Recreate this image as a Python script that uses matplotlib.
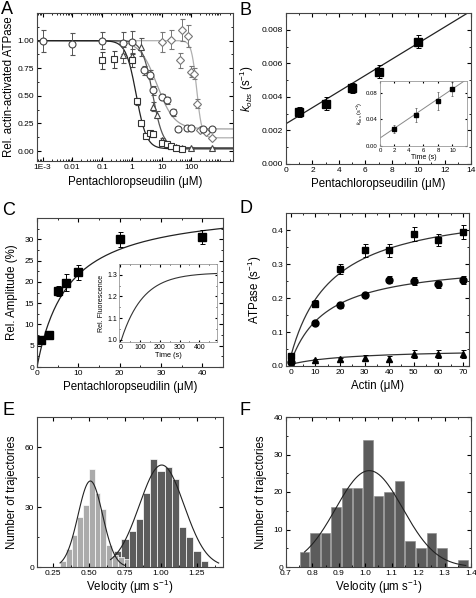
import numpy as np
import matplotlib
matplotlib.use('Agg')
import matplotlib.pyplot as plt
from matplotlib.ticker import AutoMinorLocator, FixedLocator, FixedFormatter, LogLocator, NullFormatter

plt.rcParams['font.family'] = ['Liberation Sans', 'DejaVu Sans']
plt.rcParams['mathtext.fontset'] = 'custom'
plt.rcParams['mathtext.rm'] = 'Liberation Sans'
plt.rcParams['mathtext.it'] = 'Liberation Sans:italic'
plt.rcParams['xtick.direction'] = 'in'
plt.rcParams['ytick.direction'] = 'in'
plt.rcParams['xtick.top'] = True
plt.rcParams['ytick.right'] = True
plt.rcParams['xtick.major.size'] = 3
plt.rcParams['ytick.major.size'] = 3
plt.rcParams['xtick.minor.size'] = 1.5
plt.rcParams['ytick.minor.size'] = 1.5
plt.rcParams['xtick.major.pad'] = 2
plt.rcParams['ytick.major.pad'] = 2
plt.rcParams['axes.linewidth'] = 0.8
plt.rcParams['axes.edgecolor'] = '#444444'

# ---- panel A: inhibition curves ----
a_sq_x = [0.1, 0.25, 1, 1.5, 2, 3, 4, 5, 10, 15, 20, 30, 50]
a_sq_y = [0.82, 0.83, 0.82, 0.45, 0.25, 0.14, 0.16, 0.15, 0.07, 0.06, 0.05, 0.03, 0.02]
a_sq_e = [0.08, 0.08, 0.06, 0.03, 0.02, 0.02, 0.02, 0.02, 0.02, 0.02, 0.01, 0.01, 0.01]
a_tri_x = [0.5, 1, 2, 5, 7, 10, 20, 30, 50, 100, 500]
a_tri_y = [0.87, 0.86, 0.94, 0.40, 0.33, 0.10, 0.05, 0.04, 0.03, 0.03, 0.03]
a_tri_e = [0.07, 0.06, 0.08, 0.04, 0.03, 0.02, 0.01, 0.01, 0.01, 0.01, 0.01]
a_cir_x = [0.001, 0.01, 0.1, 0.5, 1, 2.5, 4, 5, 10, 15, 25, 35, 70, 100, 250, 500]
a_cir_y = [1.0, 0.97, 1.0, 0.98, 0.99, 0.73, 0.69, 0.55, 0.49, 0.46, 0.35, 0.20, 0.21, 0.21, 0.20, 0.20]
a_cir_e = [0.1, 0.1, 0.08, 0.1, 0.1, 0.04, 0.04, 0.04, 0.03, 0.03, 0.03, 0.01, 0.01, 0.01, 0.01, 0.01]
a_dia_x = [10, 20, 40, 50, 75, 100, 125, 150, 200, 300, 500]
a_dia_y = [0.99, 1.01, 0.82, 1.10, 1.04, 0.72, 0.70, 0.43, 0.19, 0.17, 0.12]
a_dia_e = [0.09, 0.09, 0.07, 0.10, 0.10, 0.05, 0.05, 0.04, 0.02, 0.02, 0.01]
# Hill fit parameters: (bottom, IC50, hill n)
a_fit_sq = (0.02, 1.4, 2.5)
a_fit_tri = (0.03, 5.0, 2.5)
a_fit_cir = (0.20, 7.0, 1.5)
a_fit_dia = (0.12, 150.0, 5.0)

# ---- panel B ----
b_x = [1, 3, 5, 7, 10]
b_y = [0.0031, 0.0036, 0.00453, 0.0055, 0.0073]
b_e = [0.0003, 0.0004, 0.0003, 0.0004, 0.0004]
b_fit = (0.0024, 0.00048)
b_in_x = [2, 5, 8, 10]
b_in_y = [0.026, 0.047, 0.068, 0.086]
b_in_e = [0.006, 0.011, 0.013, 0.011]
b_in_fit = (0.012, 0.0074)

# ---- panel C ----
c_x = [1, 3, 5, 7, 10, 20, 40]
c_y = [6.3, 7.5, 17.8, 19.8, 22.2, 30.0, 30.5]
c_e = [0.8, 1.0, 1.2, 2.0, 1.8, 1.7, 1.6]
c_fit = (38.0, 7.5)
c_in_fit = (1.0, 0.31, 110.0)

# ---- panel D ----
d_x = [0, 10, 20, 30, 40, 50, 60, 70]
d_sq = [0.03, 0.183, 0.285, 0.34, 0.34, 0.388, 0.37, 0.395]
d_sq_e = [0.005, 0.01, 0.015, 0.018, 0.018, 0.02, 0.018, 0.02]
d_cir = [0.012, 0.127, 0.18, 0.21, 0.254, 0.25, 0.24, 0.254]
d_cir_e = [0.004, 0.006, 0.008, 0.008, 0.01, 0.012, 0.01, 0.012]
d_tri = [0.005, 0.018, 0.02, 0.025, 0.022, 0.035, 0.036, 0.036]
d_tri_e = [0.003, 0.004, 0.005, 0.006, 0.006, 0.012, 0.012, 0.012]
d_fit_sq = (0.03, 0.45, 17.0)
d_fit_cir = (0.012, 0.30, 15.0)
d_fit_tri = (0.005, 0.045, 25.0)

# ---- panel E ----
e_light_x = [0.32, 0.36, 0.40, 0.44, 0.48, 0.52, 0.56, 0.60, 0.64, 0.68, 0.72, 0.76]
e_light_n = [3, 9, 16, 25, 31, 49, 37, 29, 11, 6, 5, 4]
e_dark_x = [0.70, 0.75, 0.80, 0.85, 0.90, 0.95, 1.00, 1.05, 1.10, 1.15, 1.20, 1.25, 1.30]
e_dark_n = [8, 14, 18, 24, 37, 54, 48, 50, 44, 20, 15, 8, 3]
e_fit_light = (43.0, 0.51, 0.085)
e_fit_dark = (51.0, 1.005, 0.155)

# ---- panel F ----
f_x = [0.77, 0.81, 0.85, 0.89, 0.93, 0.97, 1.01, 1.05, 1.09, 1.13, 1.17, 1.21, 1.25, 1.29, 1.37]
f_n = [4, 9, 9, 16, 21, 21, 34, 19, 20, 23, 7, 5, 9, 5, 2]
f_fit = (25.7, 1.015, 0.127)


def hill(x, p):
    bottom, ic50, n = p
    return bottom + (1 - bottom) / (1 + (x / ic50) ** n)


def gauss(x, p):
    a, mu, s = p
    return a * np.exp(-0.5 * ((x - mu) / s) ** 2)


W, H = 477, 598
fig = plt.figure(figsize=(W / 100, H / 100), dpi=100)


def box(l, t, r, b):
    return [l / W, 1 - b / H, (r - l) / W, (b - t) / H]


lab = dict(fontsize=8.3)
tk = 6
ebk = dict(capsize=1.8, elinewidth=0.7, capthick=0.7, ls='none')

# A
ax = fig.add_axes(box(37, 13, 233, 161))
ax.set_xscale('log')
xx = np.logspace(-3.2, 3.4, 400)
ax.plot(xx, hill(xx, a_fit_dia), color='#b0b0b0', lw=0.9)
ax.plot(xx, hill(xx, a_fit_cir), color='#a0a0a0', lw=0.9)
ax.plot(xx, hill(xx, a_fit_tri), color='#555555', lw=0.9)
ax.plot(xx, hill(xx, a_fit_sq), color='#222222', lw=0.9)
ax.errorbar(a_dia_x, a_dia_y, yerr=a_dia_e, marker='D', ms=3.6, mfc='white', mec='#777777',
            ecolor='#777777', mew=0.8, **ebk)
ax.errorbar(a_cir_x, a_cir_y, yerr=a_cir_e, marker='o', ms=5, mfc='white', mec='#444444',
            ecolor='#555555', mew=0.8, **ebk)
ax.errorbar(a_tri_x, a_tri_y, yerr=a_tri_e, marker='^', ms=5, mfc='white', mec='#444444',
            ecolor='#555555', mew=0.8, **ebk)
ax.errorbar(a_sq_x, a_sq_y, yerr=a_sq_e, marker='s', ms=4.5, mfc='white', mec='#333333',
            ecolor='#444444', mew=0.8, **ebk)
ax.set_xlim(6.5e-4, 2500)
ax.set_ylim(-0.09, 1.25)
ax.xaxis.set_major_locator(FixedLocator([1e-3, 1e-2, 1e-1, 1, 10, 100]))
ax.xaxis.set_major_formatter(FixedFormatter(['1E-3', '0.01', '0.1', '1', '10', '100']))
ax.xaxis.set_minor_locator(LogLocator(base=10, subs=np.arange(2, 10), numticks=20))
ax.xaxis.set_minor_formatter(NullFormatter())
ax.set_yticks([0, 0.25, 0.5, 0.75, 1.0])
ax.set_yticklabels(['0.00', '0.25', '0.50', '0.75', '1.00'])
ax.yaxis.set_minor_locator(AutoMinorLocator(2))
ax.tick_params(labelsize=tk)
ax.set_xlabel('Pentachloropseudilin (μM)', **lab, labelpad=4)
ax.set_ylabel('Rel. actin-activated ATPase', **lab, labelpad=2)

# B
ax = fig.add_axes(box(286, 13, 471, 164))
xb = np.linspace(0, 14, 50)
ax.plot(xb, b_fit[0] + b_fit[1] * xb, color='#222222', lw=0.9)
ax.errorbar(b_x, b_y, yerr=b_e, marker='s', ms=6, color='black', **ebk)
ax.set_xlim(0, 14)
ax.set_ylim(0, 0.009)
ax.set_xticks(range(0, 15, 2))
ax.set_yticks([0, 0.002, 0.004, 0.006, 0.008])
ax.set_yticklabels(['0.000', '0.002', '0.004', '0.006', '0.008'])
ax.xaxis.set_minor_locator(AutoMinorLocator(2))
ax.yaxis.set_minor_locator(AutoMinorLocator(2))
ax.tick_params(labelsize=tk)
ax.set_xlabel('Pentachloropseudilin (μM)', **lab, labelpad=3)
ax.set_ylabel(r'$k_{obs}$ (s$^{-1}$)', **lab, labelpad=4)

ax = fig.add_axes(box(380, 81, 467, 146))
xb = np.linspace(0, 12, 50)
ax.plot(xb, b_in_fit[0] + b_in_fit[1] * xb, color='#888888', lw=0.7)
ax.errorbar(b_in_x, b_in_y, yerr=b_in_e, marker='s', ms=2.5, color='black', ecolor='#555555',
            capsize=1, elinewidth=0.5, capthick=0.5, ls='none')
ax.set_xlim(0, 12)
ax.set_ylim(0, 0.098)
ax.set_xticks([0, 2, 4, 6, 8, 10])
ax.set_yticks([0, 0.04, 0.08])
ax.set_yticklabels(['0.00', '0.04', '0.08'])
ax.tick_params(labelsize=4.3, length=1.5, pad=1.5)
ax.set_xlabel('Time (s)', fontsize=5, labelpad=1)
ax.set_ylabel(r'$k_{obs}$ (s$^{-1}$)', fontsize=4, labelpad=1)
for s in ax.spines.values():
    s.set_color('#999999')
    s.set_linewidth(0.6)

# C
ax = fig.add_axes(box(37, 218, 223, 367))
xc = np.linspace(0, 45, 200)
ax.plot(xc, c_fit[0] * xc / (c_fit[1] + xc), color='#222222', lw=0.9)
ax.errorbar(c_x, c_y, yerr=c_e, marker='s', ms=5.5, color='black', **ebk)
ax.set_xlim(0, 45)
ax.set_ylim(0, 35)
ax.set_xticks([0, 10, 20, 30, 40])
ax.set_yticks([0, 5, 10, 15, 20, 25, 30])
ax.xaxis.set_minor_locator(AutoMinorLocator(2))
ax.yaxis.set_minor_locator(AutoMinorLocator(2))
ax.tick_params(labelsize=tk)
ax.set_xlabel('Pentachloropseudilin (μM)', **lab, labelpad=3)
ax.set_ylabel('Rel. Amplitude (%)', **lab, labelpad=5)

ax = fig.add_axes(box(119, 264, 217, 342))
tt = np.linspace(5, 490, 200)
ax.plot(tt, c_in_fit[0] + c_in_fit[1] * (1 - np.exp(-(tt - 5) / c_in_fit[2])), color='#333333', lw=0.8)
ax.set_xlim(-7, 490)
ax.set_ylim(0.99, 1.35)
ax.set_xticks([0, 100, 200, 300, 400])
ax.set_yticks([1.0, 1.1, 1.2, 1.3])
ax.xaxis.set_minor_locator(AutoMinorLocator(2))
ax.yaxis.set_minor_locator(AutoMinorLocator(2))
ax.tick_params(labelsize=5, length=1.8, pad=1.5)
ax.tick_params(which='minor', length=1)
ax.set_xlabel('Time (s)', fontsize=5.3, labelpad=1)
ax.set_ylabel('Rel. Fluorescence', fontsize=5, labelpad=1.5)
for s in ax.spines.values():
    s.set_color('#999999')
    s.set_linewidth(0.6)

# D
ax = fig.add_axes(box(286, 213, 469, 366))
xd = np.linspace(0, 70, 200)
for p in (d_fit_sq, d_fit_cir, d_fit_tri):
    ax.plot(xd, p[0] + p[1] * xd / (p[2] + xd), color='#333333', lw=0.9)
ax.errorbar(d_x, d_sq, yerr=d_sq_e, marker='s', ms=4.5, color='black', **ebk)
ax.errorbar(d_x, d_cir, yerr=d_cir_e, marker='o', ms=5, color='black', **ebk)
ax.errorbar(d_x, d_tri, yerr=d_tri_e, marker='^', ms=5, color='black', **ebk)
ax.set_xlim(-2, 72.5)
ax.set_ylim(0, 0.45)
ax.set_xticks(range(0, 71, 10))
ax.set_yticks([0, 0.1, 0.2, 0.3, 0.4])
ax.xaxis.set_minor_locator(AutoMinorLocator(2))
ax.yaxis.set_minor_locator(AutoMinorLocator(2))
ax.tick_params(labelsize=tk)
ax.set_xlabel('Actin (μM)', **lab, labelpad=3)
ax.set_ylabel(r'ATPase (s$^{-1}$)', **lab, labelpad=5)

# E
ax = fig.add_axes(box(37, 417, 223, 567))
ax.bar(e_dark_x, e_dark_n, width=0.05, color='#5c5c5c', edgecolor='white', lw=0.5)
ax.bar(e_light_x, e_light_n, width=0.04, color='#ababab', edgecolor='white', lw=0.5)
xe = np.linspace(0.30, 0.75, 100)
ax.plot(xe, gauss(xe, e_fit_light), color='#222222', lw=0.8)
xe = np.linspace(0.65, 1.40, 150)
ax.plot(xe, gauss(xe, e_fit_dark), color='#222222', lw=0.8)
ax.set_xlim(0.14, 1.43)
ax.set_ylim(0, 75)
ax.set_xticks([0.25, 0.5, 0.75, 1.0, 1.25])
ax.set_xticklabels(['0.25', '0.50', '0.75', '1.00', '1.25'])
ax.set_yticks([0, 30, 60])
ax.xaxis.set_minor_locator(AutoMinorLocator(2))
ax.yaxis.set_minor_locator(AutoMinorLocator(2))
ax.tick_params(labelsize=tk)
ax.set_xlabel(r'Velocity (μm s$^{-1}$)', **lab, labelpad=1)
ax.set_ylabel('Number of trajectories', **lab, labelpad=5)

# F
ax = fig.add_axes(box(286, 417, 471, 567))
ax.bar(f_x, f_n, width=0.036, color='#5c5c5c', edgecolor='#888888', lw=0.4)
xf = np.linspace(0.77, 1.38, 150)
ax.plot(xf, gauss(xf, f_fit), color='#222222', lw=0.8)
ax.set_xlim(0.7, 1.4)
ax.set_ylim(0, 40)
ax.set_xticks(np.arange(0.7, 1.41, 0.1))
ax.set_xticklabels(['0.7', '0.8', '0.9', '1.0', '1.1', '1.2', '1.3', '1.4'])
ax.set_yticks([0, 10, 20, 30, 40])
ax.xaxis.set_minor_locator(AutoMinorLocator(2))
ax.yaxis.set_minor_locator(AutoMinorLocator(2))
ax.tick_params(labelsize=tk)
ax.set_xlabel(r'Velocity (μm s$^{-1}$)', **lab, labelpad=1)
ax.set_ylabel('Number of trajectories', **lab, labelpad=5)

# panel letters
for letter, x, y in [('A', 1, 1), ('B', 240, 2), ('C', 2, 202), ('D', 240, 200), ('E', 2, 402), ('F', 240, 402)]:
    fig.text(x / W, 1 - y / H, letter, fontsize=13, va='top', ha='left')

fig.savefig('out.png', dpi=100)
